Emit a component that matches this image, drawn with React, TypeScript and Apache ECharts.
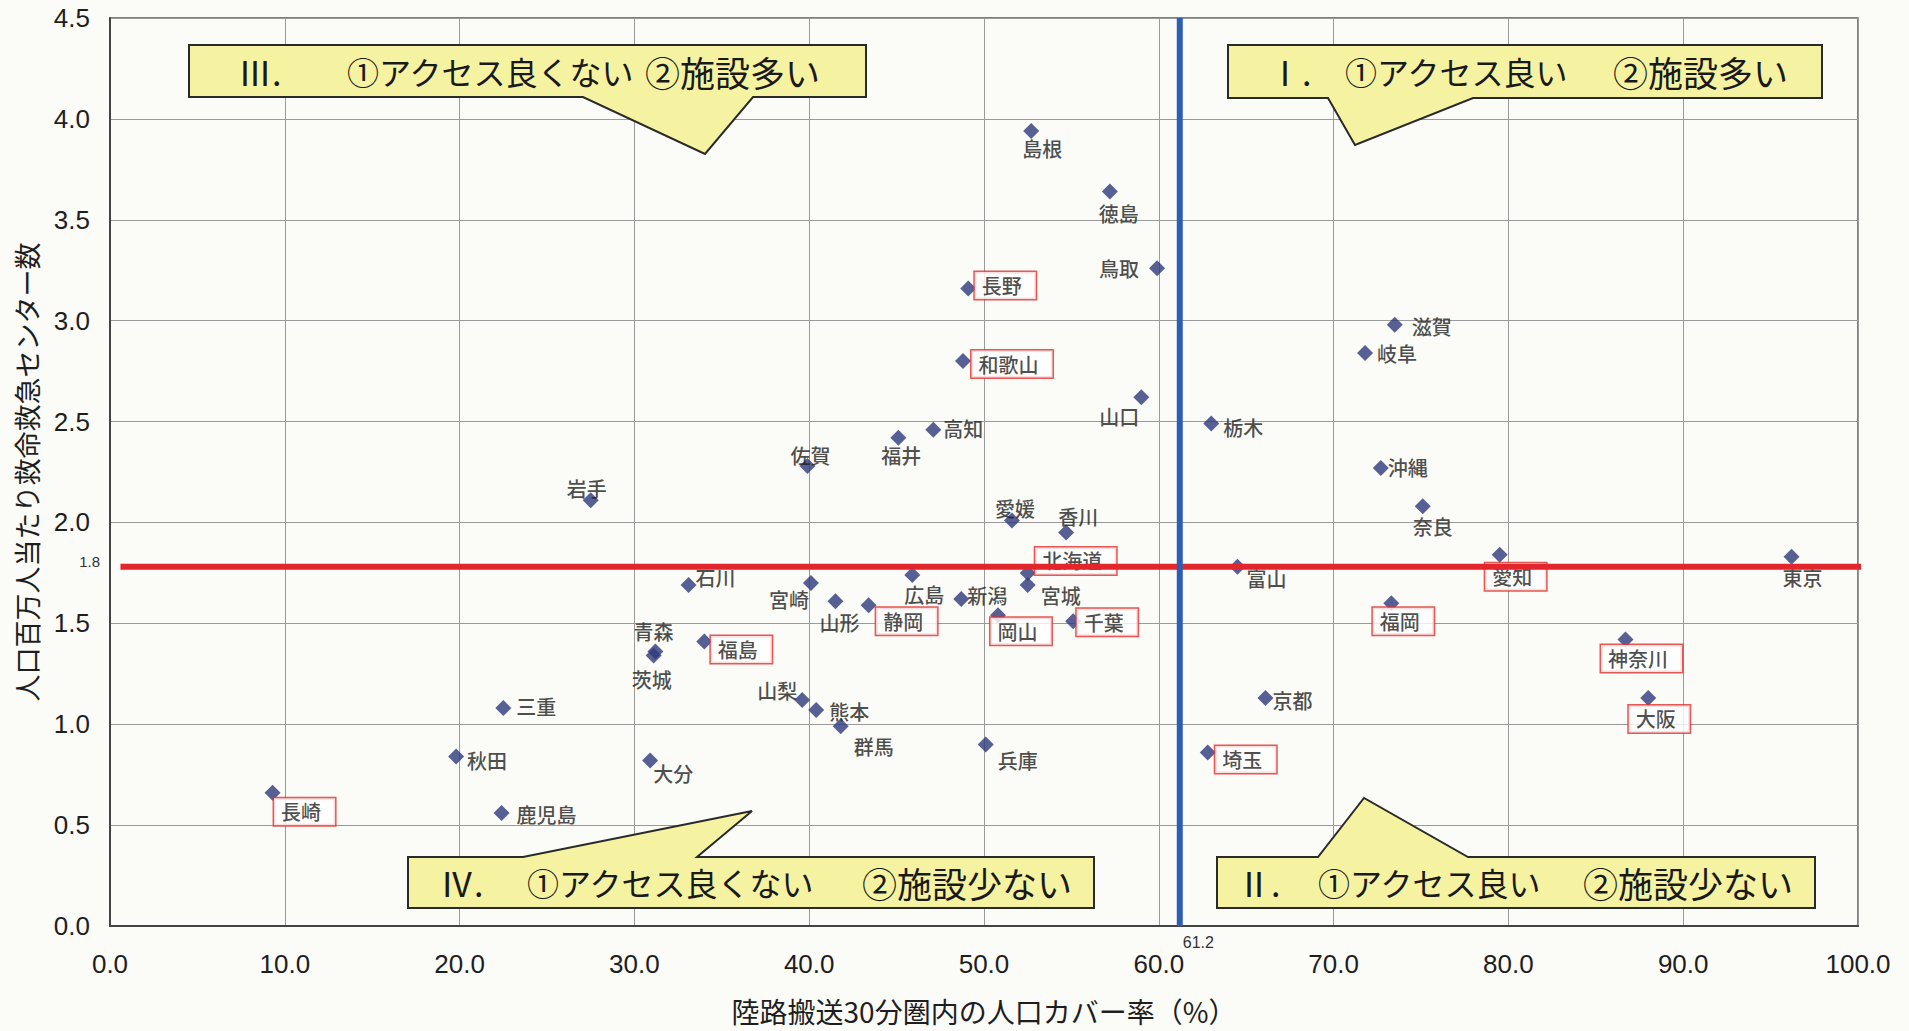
import React, { useEffect, useRef } from "react";
import * as echarts from "echarts";

// ---------------- data ----------------
const prefectures = [
  "長崎", "秋田", "岩手", "石川", "宮崎", "山形", "静岡", "広島", "青森", "茨城",
  "福島", "三重", "大分", "鹿児島", "山梨", "熊本", "群馬", "佐賀", "福井", "島根",
  "徳島", "鳥取", "長野", "和歌山", "山口", "高知", "栃木", "岐阜", "滋賀", "沖縄",
  "愛媛", "香川", "北海道", "宮城", "新潟", "岡山", "千葉", "兵庫", "富山", "京都",
  "埼玉", "福岡", "奈良", "愛知", "東京", "神奈川", "大阪",
];
// 陸路搬送30分圏内の人口カバー率（%）
const coverRate = [
  9.3, 19.8, 27.5, 33.1, 40.1, 41.5, 43.4, 45.9, 31.2, 31.1,
  34.0, 22.5, 30.9, 22.4, 39.6, 40.4, 41.8, 39.9, 45.1, 52.7,
  57.2, 59.9, 49.1, 48.8, 59.0, 47.1, 63.0, 71.8, 73.5, 72.7,
  51.6, 54.7, 52.5, 52.5, 48.7, 50.8, 55.1, 50.1, 64.5, 66.1,
  62.8, 73.3, 75.1, 79.5, 96.2, 86.7, 88.0,
];
// 人口百万人当たり救命救急センター数
const centersPerMillion = [
  0.66, 0.84, 2.11, 1.69, 1.70, 1.61, 1.59, 1.74, 1.36, 1.34,
  1.41, 1.08, 0.82, 0.56, 1.12, 1.07, 0.99, 2.28, 2.42, 3.94,
  3.64, 3.26, 3.16, 2.80, 2.62, 2.46, 2.49, 2.84, 2.98, 2.27,
  2.01, 1.95, 1.75, 1.69, 1.62, 1.54, 1.51, 0.90, 1.78, 1.13,
  0.86, 1.60, 2.08, 1.84, 1.83, 1.42, 1.13,
];
const boxedNames = [
  "長崎", "静岡", "福島", "長野", "和歌山", "北海道", "岡山", "千葉",
  "埼玉", "福岡", "愛知", "神奈川", "大阪",
];
const avgCoverRate = 61.2;
const avgCoverRateLabel = "61.2";
const avgCenters = 1.78;
const avgCentersLabel = "1.8";

const xAxisName = "陸路搬送30分圏内の人口カバー率（%）";
const yAxisName = "人口百万人当たり救命救急センター数";

const quadrantTexts = [
  ["Ⅲ.", "①アクセス良くない", "②施設多い"],
  ["Ⅰ.", "①アクセス良い", "②施設多い"],
  ["Ⅳ.", "①アクセス良くない", "②施設少ない"],
  ["Ⅱ.", "①アクセス良い", "②施設少ない"],
];

// ---------------- layout (pixels) ----------------
const labelOffsets: Record<string, [number, number]> = {
  長崎: [32, 19], 秋田: [31, 4], 岩手: [-4, -12], 石川: [27, -7], 宮崎: [-22, 17],
  山形: [4, 21], 静岡: [38, 16], 広島: [12, 20], 青森: [-2, -20], 茨城: [-2, 24],
  福島: [37, 8], 三重: [33, -2], 大分: [23, 13], 鹿児島: [45, 1], 山梨: [-25, -10],
  熊本: [33, 1], 群馬: [33, 20], 佐賀: [3, -10], 福井: [3, 18], 島根: [11, 18],
  徳島: [9, 22], 鳥取: [-38, 0], 長野: [37, -3], 和歌山: [49, 3], 山口: [-22, 19],
  高知: [30, -1], 栃木: [32, 4], 岐阜: [32, 1], 滋賀: [37, 2], 沖縄: [27, 0],
  愛媛: [3, -12], 香川: [12, -16], 北海道: [48, -12], 宮城: [33, 11], 新潟: [26, -4],
  岡山: [23, 16], 千葉: [34, 1], 兵庫: [32, 16], 富山: [29, 12], 京都: [27, 3],
  埼玉: [38, 7], 福岡: [12, 18], 奈良: [10, 20], 愛知: [16, 22], 東京: [11, 21],
  神奈川: [16, 19], 大阪: [11, 21],
};

const callouts: { points: number[][]; textY: number; textX: number[] }[] = [
  {
    points: [[189, 45], [866, 45], [866, 97], [753, 97], [705, 154], [583, 97], [189, 97]],
    textY: 71, textX: [238, 347, 645],
  },
  {
    points: [[1228, 45], [1822, 45], [1822, 98], [1473, 98], [1355, 145], [1328, 98], [1228, 98]],
    textY: 71, textX: [1268, 1345, 1613],
  },
  {
    points: [[408, 857], [523, 857], [752, 811], [697, 857], [1094, 857], [1094, 908], [408, 908]],
    textY: 882, textX: [440, 527, 862],
  },
  {
    points: [[1217, 857], [1318, 857], [1364, 798], [1468, 857], [1815, 857], [1815, 908], [1217, 908]],
    textY: 882, textX: [1237, 1318, 1583],
  },
];
const calloutFontSizes = [34, 32, 35];

const JP = '"Noto Sans CJK JP", "Noto Sans", sans-serif';
const NUM = '"Liberation Sans", Arial, sans-serif';
const TEXT = "#1e1e1e";

export default function App() {
  const ref = useRef<HTMLDivElement>(null);

  useEffect(() => {
    document.body.style.margin = "0";
    if (!ref.current) return;
    const chart = echarts.init(ref.current, null, { renderer: "svg" });

    const scatterData = prefectures.map((name, i) => {
      const boxed = boxedNames.includes(name);
      return {
        name,
        value: [coverRate[i], centersPerMillion[i]],
        label: {
          offset: labelOffsets[name] || [0, 0],
          ...(boxed
            ? {
                borderColor: "#E0302A",
                borderWidth: 1.5,
                backgroundColor: "#ffffff",
                padding: [3, 14, 3, 7],
              }
            : {}),
        },
      };
    });

    chart.setOption({
      animation: false,
      backgroundColor: "#FBFBF7",
      grid: {
        left: 110,
        top: 18,
        right: 51,
        bottom: 105,
        show: true,
        borderColor: "#555",
        borderWidth: 1.5,
        outerBoundsMode: "none",
      },
      xAxis: {
        type: "value",
        min: 0,
        max: 100,
        interval: 10,
        name: xAxisName,
        nameLocation: "middle",
        nameGap: 71,
        nameTextStyle: { fontFamily: JP, fontSize: 28, color: TEXT },
        axisLine: { show: true, lineStyle: { color: "#444", width: 2 } },
        axisTick: { show: false },
        axisLabel: {
          margin: 25,
          fontFamily: NUM,
          fontSize: 26,
          color: TEXT,
          formatter: (v: number) => v.toFixed(1),
        },
        splitLine: { show: true, lineStyle: { color: "#9a9a9a", width: 1 } },
      },
      yAxis: {
        type: "value",
        min: 0,
        max: 4.5,
        interval: 0.5,
        name: yAxisName,
        nameLocation: "middle",
        nameRotate: 90,
        nameGap: 70,
        nameTextStyle: { fontFamily: JP, fontSize: 27, color: TEXT },
        axisLine: { show: true, lineStyle: { color: "#444", width: 2 } },
        axisTick: { show: false },
        axisLabel: {
          margin: 20,
          fontFamily: NUM,
          fontSize: 26,
          color: TEXT,
          formatter: (v: number) => v.toFixed(1),
        },
        splitLine: { show: true, lineStyle: { color: "#9a9a9a", width: 1 } },
      },
      series: [
        {
          type: "scatter",
          name: "都道府県",
          symbol: "diamond",
          symbolSize: 16,
          itemStyle: { color: "#2E3A7C" },
          z: 3,
          label: {
            show: true,
            position: "inside",
            formatter: "{b}",
            fontFamily: JP,
            fontSize: 20,
            fontWeight: 500,
            lineHeight: 21,
            color: TEXT,
            textBorderWidth: 0,
          },
          data: scatterData,
        },
        {
          type: "line",
          name: "全国平均(施設)",
          symbol: "none",
          clip: false,
          z: 5,
          silent: true,
          lineStyle: { color: "#E3262B", width: 6 },
          data: [
            [0.6, avgCenters],
            [100.3, avgCenters],
          ],
        },
        {
          type: "line",
          name: "全国平均(カバー率)",
          symbol: "none",
          z: 5,
          silent: true,
          lineStyle: { color: "#2D5DB4", width: 6 },
          data: [
            [avgCoverRate, 0],
            [avgCoverRate, 4.5],
          ],
        },
      ],
    });

    const [lx, ly] = chart.convertToPixel({ gridIndex: 0 }, [0, avgCenters]) as number[];
    const [bx, by] = chart.convertToPixel({ gridIndex: 0 }, [avgCoverRate, 0]) as number[];

    const graphic: any[] = [];
    callouts.forEach((c, k) => {
      graphic.push({
        type: "polygon",
        z: 20,
        shape: { points: c.points },
        style: { fill: "#F5F3A2", stroke: "#2a2a2a", lineWidth: 2 },
      });
      quadrantTexts[k].forEach((t, j) => {
        graphic.push({
          type: "text",
          z: 21,
          x: c.textX[j],
          y: c.textY,
          style: {
            text: t,
            fontFamily: JP,
            fontSize: calloutFontSizes[j],
            fill: "#1a1a1a",
            textAlign: "left",
            textVerticalAlign: "middle",
          },
        });
      });
    });
    graphic.push({
      type: "text",
      z: 21,
      x: lx - 10,
      y: ly - 5,
      style: {
        text: avgCentersLabel,
        fontFamily: NUM,
        fontSize: 15,
        fill: "#333",
        textAlign: "right",
        textVerticalAlign: "middle",
      },
    });
    graphic.push({
      type: "text",
      z: 21,
      x: bx + 3,
      y: by + 16,
      style: {
        text: avgCoverRateLabel,
        fontFamily: NUM,
        fontSize: 16,
        fill: "#333",
        textAlign: "left",
        textVerticalAlign: "middle",
      },
    });
    chart.setOption({ graphic });

    return () => chart.dispose();
  }, []);

  return <div ref={ref} style={{ width: 1909, height: 1031 }} />;
}
